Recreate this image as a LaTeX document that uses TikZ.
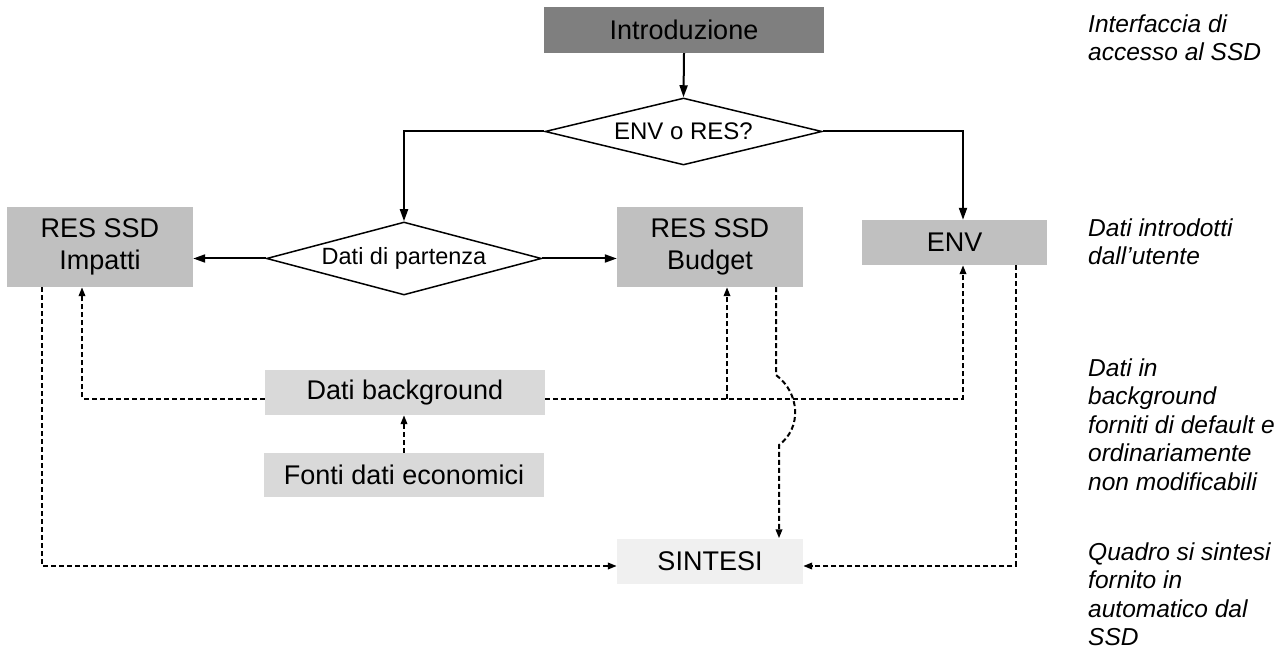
\documentclass[tikz,border=0pt]{standalone}
\usepackage{fontspec}
\setmainfont{Liberation Sans}
\usetikzlibrary{shapes.geometric,arrows.meta}
\definecolor{introgray}{HTML}{7F7F7F}
\definecolor{resgray}{HTML}{C0C0C0}
\definecolor{bggray}{HTML}{D9D9D9}
\definecolor{sintgray}{HTML}{F0F0F0}
\begin{document}
\begin{tikzpicture}[x=1pt,y=-1pt,
  box/.style={draw=none, inner sep=0pt, align=center, font=\fontsize{27}{32.5}\selectfont},
  decision/.style={diamond, draw, line width=1.5pt, inner sep=0pt, fill=white, aspect=4, font=\fontsize{24}{28}\selectfont},
  flow/.style={line width=2pt, -{Triangle[length=12pt,width=8pt]}},
  dflow/.style={line width=2pt, dash pattern=on 5pt off 3pt, -{Triangle[length=9pt,width=6.5pt]}},
  note/.style={anchor=north west, inner sep=0pt, align=left, font=\fontsize{24.5}{28.5}\selectfont\itshape}]
\useasboundingbox (0,0) rectangle (1283,652);

% nodes
\node[box, fill=introgray, minimum width=280pt, minimum height=46pt] (intro) at (684,30) {Introduzione};
\node[decision, minimum width=277pt, minimum height=67pt] (envres) at (683.5,131.5) {ENV o RES?};
\node[decision, minimum width=275pt, minimum height=73pt, font=\fontsize{23.5}{28}\selectfont] (partenza) at (404,258.5) {Dati di partenza};
\node[box, fill=resgray, minimum width=186pt, minimum height=80pt] (impatti) at (100,247) {RES SSD\\Impatti};
\node[box, fill=resgray, minimum width=186pt, minimum height=80pt] (budget) at (710,247) {RES SSD\\Budget};
\node[box, fill=resgray, minimum width=185pt, minimum height=45pt] (env) at (954.5,242.5) {ENV};
\node[box, fill=bggray, minimum width=280pt, minimum height=45pt] (background) at (405,392.5) {Dati background};
\node[box, fill=bggray, minimum width=280pt, minimum height=44pt] (fonti) at (404,475) {Fonti dati economici};
\node[box, fill=sintgray, minimum width=186pt, minimum height=45pt] (sintesi) at (710,561) {SINTESI};

% side notes
\node[note] (n1) at (1088,14.5) {Interfaccia di\\accesso al SSD};
\node[note] (n2) at (1088,218.5) {Dati introdotti\\dall’utente};
\node[note] (n3) at (1088,358.5) {Dati in\\background\\forniti di default e\\ordinariamente\\non modificabili};
\node[note] (n4) at (1088,542.5) {Quadro si sintesi\\fornito in\\automatico dal\\SSD};

% solid connectors
\draw[flow] (intro.south) -- (envres.north);
\draw[flow] (envres.west) -| (partenza.north);
\coordinate (envtop) at ([xshift=8.5pt]env.north);
\draw[flow] (envres.east) -| (envtop);
\draw[flow] (partenza.west) -- (partenza.west -| impatti.east);
\draw[flow] (partenza.east) -- (partenza.east -| budget.west);

% dashed connectors
\coordinate (bgL) at ([yshift=-6pt]background.west);
\coordinate (bgR) at ([yshift=-6pt]background.east);
\coordinate (impBot) at ([xshift=-18pt]impatti.south);
\draw[dflow] (bgL) -| (impBot);
\coordinate (envBot) at ([xshift=8.5pt]env.south);
\draw[dflow] (bgR) -| (envBot);
\coordinate (budBot) at ([xshift=17pt]budget.south);
\draw[dflow] (budBot |- bgR) -- (budBot);
\draw[dflow] (fonti.north) -- (fonti.north |- background.south);
\coordinate (sinL) at ([yshift=-5pt]sintesi.west);
\coordinate (sinR) at ([yshift=-5pt]sintesi.east);
\coordinate (impOut) at ([xshift=-58pt]impatti.south);
\draw[dflow] (impOut) |- (sinL);
\coordinate (envOut) at ([xshift=61pt]env.south);
\draw[dflow] (envOut) |- (sinR);
\coordinate (budOut) at ([xshift=66pt]budget.south);
\coordinate (sinTop) at ([xshift=69pt]sintesi.north);
\draw[dflow] (budOut) -- (776,375) .. controls (800,393) and (802,428) .. (779,445) -- (sinTop);
\end{tikzpicture}
\end{document}
